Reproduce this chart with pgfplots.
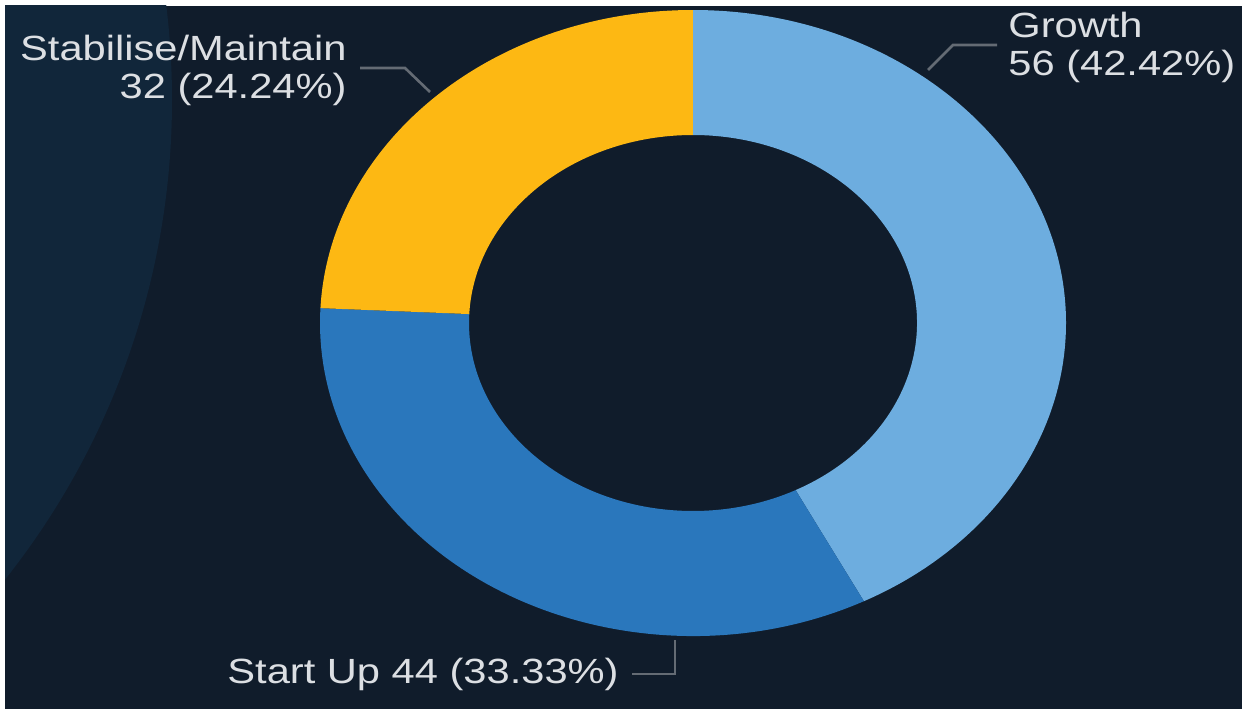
\documentclass[border=0pt]{standalone}
\usepackage{pgfplots}
\pgfplotsset{compat=1.18}
\usepackage{graphicx}
\usepackage{fontspec}
\setmainfont{Liberation Sans}
\definecolor{bgdark}{HTML}{101C2B}
\definecolor{bglight}{HTML}{11263A}
\definecolor{cgrowth}{HTML}{6DADDF}
\definecolor{cstart}{HTML}{2A77BC}
\definecolor{cstab}{HTML}{FDB813}
\definecolor{labeltxt}{HTML}{DCDFE3}
\definecolor{leader}{HTML}{646B74}
\newcommand{\lbl}[1]{\scalebox{1.19}[1]{\fontsize{17.5}{19}\selectfont #1}}
\newcommand\donutslice[3]{%
 \fill[#1] ([shift={(#2:186.5pt and 156.5pt)}]c)
   arc[start angle=#2, end angle=#3, x radius=186.5pt, y radius=156.5pt]
   -- ([shift={(#3:112pt and 94pt)}]c)
   arc[start angle=#3, end angle=#2, x radius=112pt, y radius=94pt] -- cycle;}
\begin{document}
\begin{tikzpicture}
\def\vGrowth{56}\def\vStart{44}\def\vStab{32}
\pgfmathsetmacro\tot{\vGrowth+\vStart+\vStab}
\pgfmathsetmacro\aA{90}
\pgfmathsetmacro\aB{\aA-360*(\vGrowth/\tot)}
\pgfmathsetmacro\aC{\aB-360*(\vStart/\tot)}
\pgfmathsetmacro\aD{\aC-360*(\vStab/\tot)}
\begin{axis}[scale only axis, width=621pt, height=354.5pt,
  xmin=0, xmax=1242, ymin=0, ymax=709, hide axis, clip=false, enlargelimits=false]
\fill[white] (axis cs:0,0) rectangle (axis cs:1242,709);
\fill[bgdark] (axis cs:5,0) rectangle (axis cs:1242,703);
\begin{scope}
\clip (axis cs:5,0) rectangle (axis cs:1242,703);
\fill[bglight, overlay] (axis cs:-600,609) circle[radius=386pt];
\end{scope}
\coordinate (c) at (axis cs:693,386);
\donutslice{cgrowth}{\aA}{\aB}
\donutslice{cstart}{\aB}{\aC}
\donutslice{cstab}{\aC}{\aD}
% leaders
\draw[leader, line width=1.3pt] (axis cs:360,641) -- (axis cs:405,641) -- (axis cs:430,617);
\draw[leader, line width=1.3pt] (axis cs:997,664) -- (axis cs:953,664) -- (axis cs:928,639);
\draw[leader, line width=1.3pt] (axis cs:632,35) -- (axis cs:675,35) -- (axis cs:675,69);
% labels
\node[anchor=base east, inner sep=0, text=labeltxt] at (axis cs:347,649) {\lbl{Stabilise/Maintain}};
\node[anchor=base east, inner sep=0, text=labeltxt] at (axis cs:347,611) {\lbl{32 (24.24\%)}};
\node[anchor=base west, inner sep=0, text=labeltxt] at (axis cs:1008,672) {\lbl{Growth}};
\node[anchor=base west, inner sep=0, text=labeltxt] at (axis cs:1008,634) {\lbl{56 (42.42\%)}};
\node[anchor=base west, inner sep=0, text=labeltxt] at (axis cs:227,26) {\lbl{Start Up 44 (33.33\%)}};
\end{axis}
\end{tikzpicture}
\end{document}
